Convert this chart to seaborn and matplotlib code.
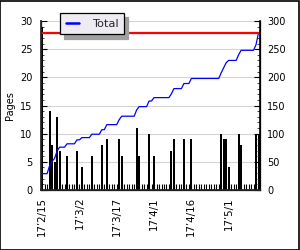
import numpy as np
import pandas as pd
import matplotlib
matplotlib.use("Agg")
import matplotlib.pyplot as plt
from matplotlib.patches import Rectangle
import seaborn as sns

# ---- data ----
n_days = 88
bar_days = [0, 3, 4, 5, 6, 7, 10, 14, 16, 20, 24, 26, 31, 32, 38, 39, 43, 45,
            52, 53, 57, 60, 72, 73, 74, 75, 79, 80, 86, 87]
bar_pages = [29, 14, 8, 5, 13, 7, 6, 7, 4, 6, 8, 9, 9, 6, 11, 6, 10, 6,
             7, 9, 9, 9, 10, 9, 9, 4, 10, 8, 10, 10]
total_days = [0, 2, 3, 4, 5, 6, 7, 9, 10, 13, 14, 15, 16, 19, 20, 23, 24, 25, 26,
              30, 31, 32, 37, 38, 39, 42, 43, 44, 45, 51, 52, 53, 56, 57, 59, 60,
              71, 72, 73, 74, 75, 78, 79, 80, 85, 86, 87]
total_vals = [29, 29, 43, 51, 56, 69, 76, 76, 82, 82, 89, 89, 93, 93, 99, 99, 107, 107, 116,
              116, 125, 131, 131, 142, 148, 148, 158, 158, 164, 164, 171, 180, 180, 189, 189, 198,
              198, 208, 217, 226, 230, 230, 240, 248, 248, 258, 279]
max_total = 279
tick_days = [0, 15, 30, 45, 60, 75]
tick_labels = ["17\u20192/15", "17\u20193/2", "17\u20193/17", "17\u20194/1", "17\u20194/16", "17\u20195/1"]

pages = np.zeros(n_days)
pages[bar_days] = bar_pages
df_bar = pd.DataFrame({"day": np.arange(n_days), "pages": pages})
df_tot = pd.DataFrame({"day": total_days, "total": total_vals})

sns.set_theme(style="white")
plt.rcParams["font.family"] = ["DejaVu Sans"]

fig = plt.figure(figsize=(3.0, 2.5), dpi=100)
ax = fig.add_axes([41/300, 1-190/250, 219/300, 169/250])

sns.barplot(data=df_bar, x="day", y="pages", color="black", width=0.8,
            saturation=1, ax=ax, edgecolor="none", linewidth=0)
ax.set_xlim(-0.45, 87.6)
ax.set_ylim(0, 30)
ax.set_yticks(range(0, 31, 5))
ax.set_yticks(range(0, 31, 1), minor=True)
ax.set_xticks(tick_days)
ax.set_xticklabels(tick_labels, rotation=90)
ax.set_xticks(range(n_days), minor=True)
ax.yaxis.grid(True, which="major", color="#d4d4d4", linewidth=0.8)
ax.set_axisbelow(True)
ax.set_xlabel("")
ax.set_ylabel("Pages", fontsize=7, labelpad=4, color="black")
ax.tick_params(axis="y", which="major", direction="in", length=4, width=0.8,
               labelsize=7, pad=6, colors="black", left=True)
ax.tick_params(axis="y", which="minor", direction="in", length=2, width=0.6, left=True)
ax.tick_params(axis="x", which="both", direction="in", length=4, width=0.8,
               labelsize=7.4, pad=5, colors="black", bottom=True)
for s in ["left", "bottom", "right"]:
    ax.spines[s].set_color("black")
    ax.spines[s].set_linewidth(0.9)
ax.spines["top"].set_visible(False)

ax2 = ax.twinx()
sns.lineplot(data=df_tot, x="day", y="total", color="#0000ff", linewidth=0.9,
             ax=ax2, label="Total", legend=False)
ax2.axhline(max_total, color="#ff0000", linewidth=1.6)
ax2.set_ylim(0, 300)
ax2.set_xlim(-0.45, 87.6)
ax2.set_yticks(range(0, 301, 50))
ax2.set_yticks(range(0, 301, 10), minor=True)
ax2.set_ylabel("")
ax2.tick_params(axis="y", which="major", direction="in", length=4, width=0.8,
                labelsize=7, pad=5, colors="black", right=True)
ax2.tick_params(axis="y", which="minor", direction="in", length=2, width=0.6, right=True)
ax2.spines["top"].set_visible(False)
ax2.spines["right"].set_color("black")
ax2.spines["right"].set_linewidth(1.2)

h, l = ax2.get_legend_handles_labels()
leg = ax2.legend(h, l, loc="upper left", bbox_to_anchor=(60/300, 1-13/250),
                 bbox_transform=fig.transFigure, borderaxespad=0, fancybox=False,
                 frameon=True, fontsize=8.2, handlelength=1.2, handletextpad=1.1,
                 borderpad=0.5,
                 shadow={"color": "#a0a0a0", "alpha": 1, "ox": 3, "oy": -3})
leg.get_frame().set_edgecolor("black")
leg.get_frame().set_facecolor("#eeecf2")
leg.get_frame().set_linewidth(0.9)
leg.get_frame().set_alpha(1)
for line in leg.get_lines():
    line.set_linewidth(1.8)

fig.patches.append(Rectangle((0.0015, 0.002), 0.994, 0.995, transform=fig.transFigure,
                             fill=False, edgecolor="black", linewidth=1.2))
fig.savefig("out.png", dpi=100, facecolor="white")
